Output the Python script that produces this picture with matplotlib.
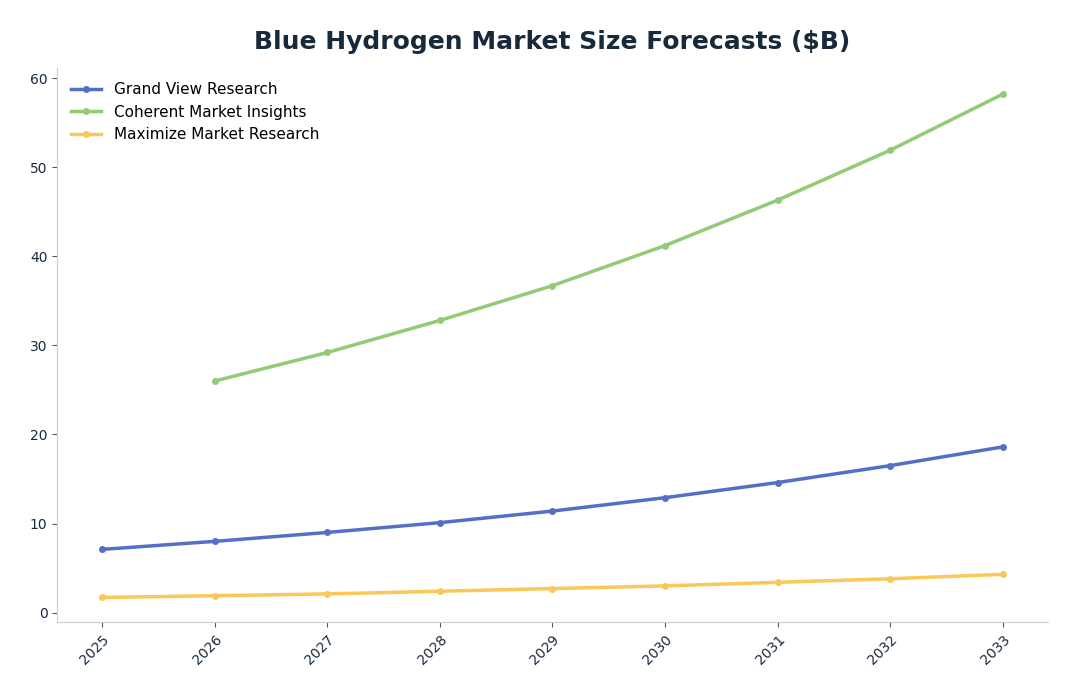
import matplotlib.pyplot as plt

years = [2025, 2026, 2027, 2028, 2029, 2030, 2031, 2032, 2033]
grand_view = [7.1, 8.0, 9.0, 10.1, 11.4, 12.9, 14.6, 16.5, 18.6]
coherent_years = [2026, 2027, 2028, 2029, 2030, 2031, 2032, 2033]
coherent = [26.0, 29.2, 32.8, 36.7, 41.2, 46.3, 51.9, 58.2]
maximize = [1.7, 1.9, 2.1, 2.4, 2.7, 3.0, 3.4, 3.8, 4.3]

fig = plt.figure(figsize=(10.79, 6.97), dpi=100)
ax = fig.add_axes([0.053, 0.107, 0.918, 0.795])

ax.plot(years, grand_view, color='#5470C6', linewidth=2.5, marker='o', markersize=4, label='Grand View Research')
ax.plot(coherent_years, coherent, color='#91CC75', linewidth=2.5, marker='o', markersize=4, label='Coherent Market Insights')
ax.plot(years, maximize, color='#FAC858', linewidth=2.5, marker='o', markersize=4, label='Maximize Market Research')

ax.set_xlim(2024.6, 2033.4)
ax.set_ylim(-1.1, 61.1)
ax.set_xticks(years)
ax.set_xticklabels([str(y) for y in years], rotation=45, ha='right', rotation_mode='anchor')
ax.set_yticks([0, 10, 20, 30, 40, 50, 60])
ax.tick_params(colors='#1a2a3a', labelsize=10)
for s in ['top', 'right']:
    ax.spines[s].set_visible(False)
for s in ['left', 'bottom']:
    ax.spines[s].set_color('#cccccc')
ax.tick_params(axis='both', color='#555555')

ax.legend(loc='upper left', frameon=False, fontsize=11)
ax.set_title('Blue Hydrogen Market Size Forecasts ($B)', fontsize=18, fontweight='bold', color='#17293a', pad=14)

fig.savefig('out.png', dpi=100)
